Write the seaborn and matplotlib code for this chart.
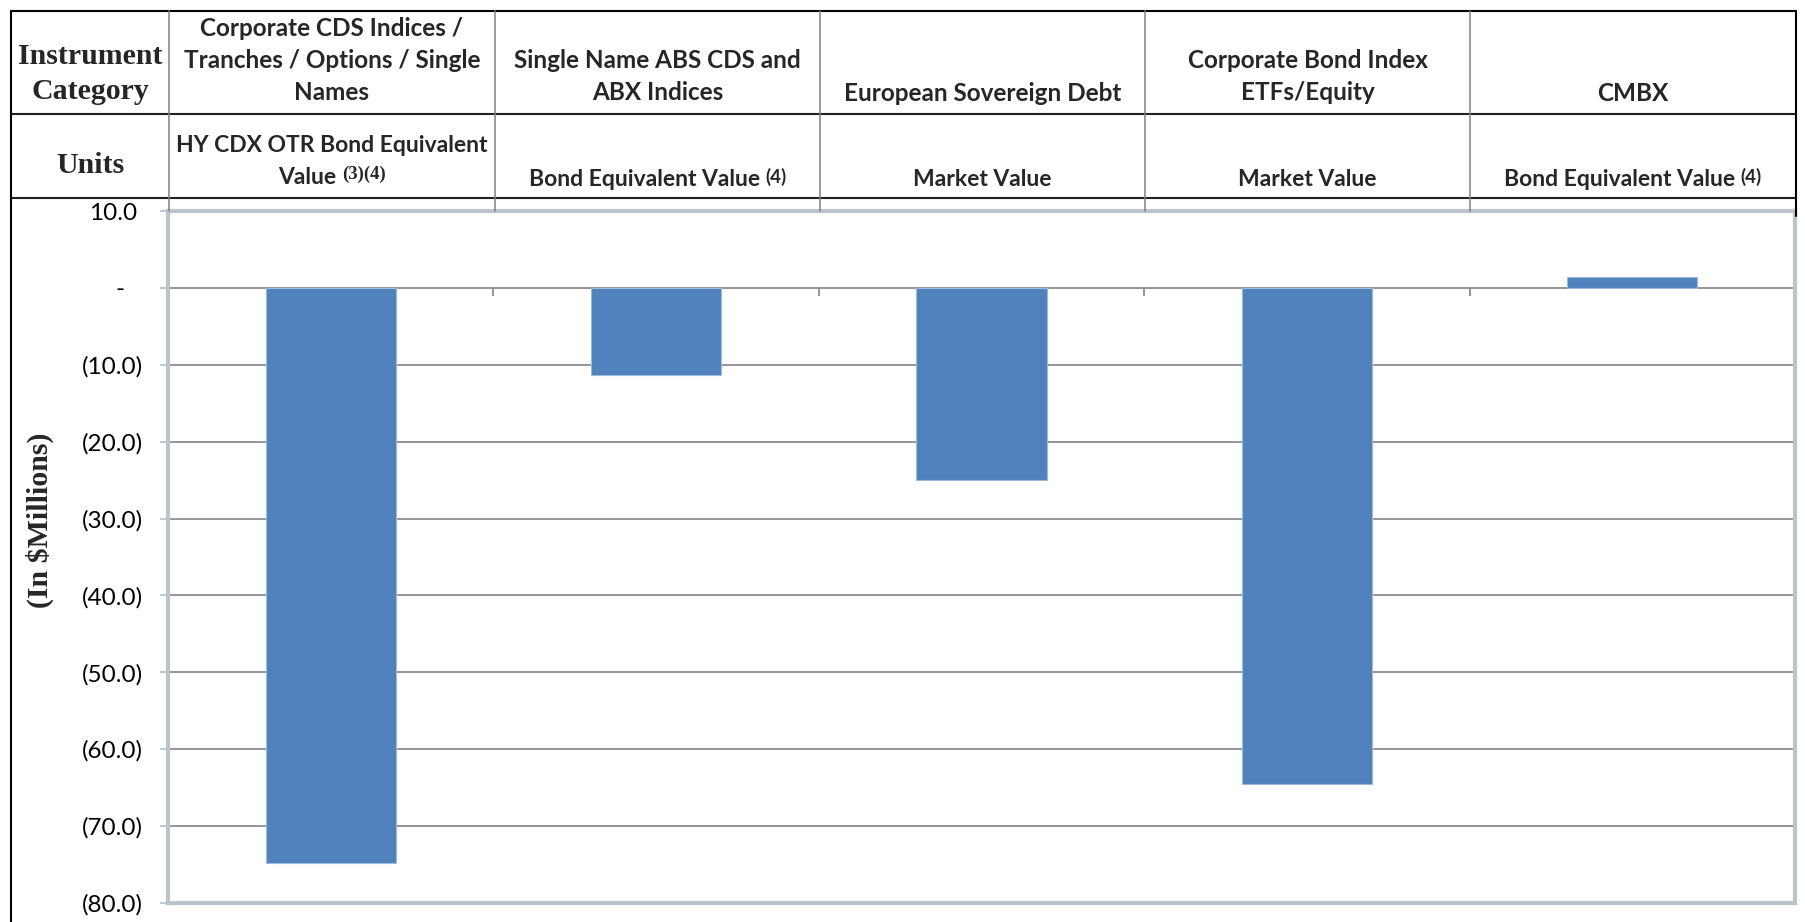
import matplotlib
matplotlib.use("Agg")
import matplotlib.pyplot as plt
import seaborn as sns
import pandas as pd
from matplotlib.lines import Line2D

# ---------------- data ----------------
categories = ["Corporate CDS Indices", "Single Name ABS CDS and ABX Indices",
              "European Sovereign Debt", "Corporate Bond Index ETFs/Equity", "CMBX"]
values = [-74.8, -11.3, -25.0, -64.5, 1.4]

category_headers = ["Corporate CDS Indices /\nTranches / Options / Single\nNames",
                    "Single Name ABS CDS and\nABX Indices",
                    "European Sovereign Debt",
                    "Corporate Bond Index\nETFs/Equity",
                    "CMBX"]
unit_headers = ["HY CDX OTR Bond Equivalent\nValue",
                "Bond Equivalent Value",
                "Market Value",
                "Market Value",
                "Bond Equivalent Value"]
unit_notes = ["(3)(4)", "(4)", "", "", "(4)"]

y_ticks = [10, 0, -10, -20, -30, -40, -50, -60, -70, -80]
y_tick_labels = ["10.0", "-", "(10.0)", "(20.0)", "(30.0)", "(40.0)",
                 "(50.0)", "(60.0)", "(70.0)", "(80.0)"]

# ---------------- layout ----------------
W, H = 1805, 922
sns.set_style("white")
plt.rcParams['font.family'] = ['Lato', 'DejaVu Sans']
SERIF = ['Liberation Serif', 'DejaVu Serif']

fig = plt.figure(figsize=(W / 100, H / 100), dpi=100)


def fx(x):
    return x / W


def fy(y):
    return 1 - y / H


ax_l, ax_r, ax_t, ax_b = 168, 1795, 211, 903
ax = fig.add_axes([fx(ax_l), fy(ax_b), fx(ax_r) - fx(ax_l), fy(ax_t) - fy(ax_b)])

df = pd.DataFrame({"category": categories, "value": values})
sns.barplot(data=df, x="category", y="value", color="#4F81BD", saturation=1,
            width=0.4, edgecolor="#9DB9DC", linewidth=0.8, ax=ax, zorder=3)

ax.set_xlim(-0.5, 4.5)
ax.set_ylim(-80, 10)
ax.set_xticks([])
ax.set_xlabel("")
ax.set_ylabel("")
ax.set_yticks(y_ticks)
ax.set_yticklabels(y_tick_labels)
ax.grid(axis='y', color='#8C8C8C', lw=1.3)
ax.set_axisbelow(True)
ax.vlines([-0.5, 0.5, 1.5, 2.5, 3.5, 4.5], 0, -1.0, colors='#8C8C8C', lw=1.3, zorder=2)

frame_col = '#B9C4CC'
for s in ax.spines.values():
    s.set_visible(True)
    s.set_color(frame_col)
    s.set_linewidth(3.0)

ax.tick_params(axis='y', left=True, length=6, width=1.3, color=frame_col,
               pad=12, labelsize=17.5, direction='out', labelcolor='black')
ticks = ax.yaxis.get_major_ticks()
ticks[0].set_pad(12 + 4.3)
ticks[1].set_pad(12 + 13.5)

# ---------------- table lines ----------------
col_edges = [11, 169, 495, 820, 1145, 1470, 1796]
row_top, row1_bot, row2_bot = 11.5, 114, 198


def hline(y, x0, x1, color='black', lw=1.5):
    fig.add_artist(Line2D([fx(x0), fx(x1)], [fy(y), fy(y)], color=color, lw=lw))


def vline(x, y0, y1, color='black', lw=1.5):
    fig.add_artist(Line2D([fx(x), fx(x)], [fy(y0), fy(y1)], color=color, lw=lw))


hline(row_top, 11, 1796)
hline(row1_bot, 11, 1796, color='#202020')
hline(row2_bot, 11, 1796, color='#202020')
vline(11, row_top, H)
vline(1796, row_top, 216)
for x in col_edges[1:-1]:
    vline(x, row_top, ax_t, color='#808080', lw=1.1)

# ---------------- header text ----------------
SFS = 21.5
fig.text(fx(90), fy(64), "Instrument", family=SERIF, weight='bold', fontsize=SFS,
         ha='center', va='baseline')
fig.text(fx(90), fy(99), "Category", family=SERIF, weight='bold', fontsize=SFS,
         ha='center', va='baseline')
fig.text(fx(90), fy(173), "Units", family=SERIF, weight='bold', fontsize=SFS,
         ha='center', va='baseline')
fig.text(fx(40), fy(520), "(In $Millions)", family=SERIF, weight='bold', fontsize=SFS,
         ha='center', va='center', rotation=90)

HFS1 = 17.5
HFS2 = 16.5
renderer = fig.canvas.get_renderer()

for i, txt in enumerate(category_headers):
    cx = (col_edges[i + 1] + col_edges[i + 2]) / 2
    lines = txt.split("\n")
    n = len(lines)
    last_base = 99.5 if n > 1 else 101
    for j, line in enumerate(lines):
        yb = last_base - (n - 1 - j) * 32
        fig.text(fx(cx), fy(yb), line, weight='bold', fontsize=HFS1,
                 ha='center', va='baseline')

for i, txt in enumerate(unit_headers):
    cx = (col_edges[i + 1] + col_edges[i + 2]) / 2
    lines = txt.split("\n")
    n = len(lines)
    last_base = 184 if n > 1 else 186.5
    for j, line in enumerate(lines):
        yb = last_base - (n - 1 - j) * 32
        is_last = (j == n - 1)
        note = unit_notes[i] if is_last else ""
        if note:
            t = fig.text(0, fy(yb), line, weight='bold', fontsize=HFS2,
                         ha='left', va='baseline')
            if i == 0:
                sup = fig.text(0, fy(yb - 18), note, family=SERIF, weight='bold',
                               fontsize=13.5, ha='left', va='top')
            else:
                sup = fig.text(0, fy(yb - 19), note, weight='bold',
                               fontsize=13.5, ha='left', va='top')
            w_main = t.get_window_extent(renderer).width
            w_sup = sup.get_window_extent(renderer).width
            gap = 5
            x0 = cx - (w_main + gap + w_sup) / 2
            t.set_x(fx(x0))
            sup.set_x(fx(x0 + w_main + gap))
        else:
            fig.text(fx(cx), fy(yb), line, weight='bold', fontsize=HFS2,
                     ha='center', va='baseline')

fig.savefig("out.png", dpi=100)
